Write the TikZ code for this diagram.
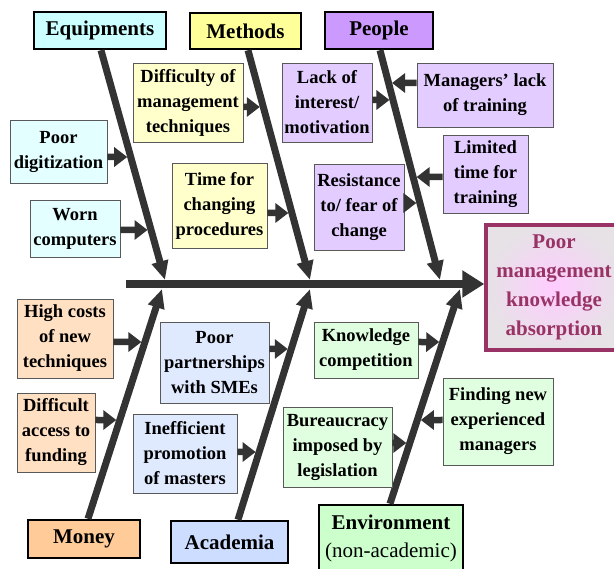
\documentclass[tikz,border=0pt]{standalone}
\usepackage{fontspec}
\setmainfont{Liberation Serif}
\usetikzlibrary{arrows.meta}

\definecolor{bonegray}{HTML}{333333}
\definecolor{effectred}{HTML}{993366}
\definecolor{effectin}{HTML}{FFCCFF}
\definecolor{effectout}{HTML}{E6E2E6}
\definecolor{eqhead}{HTML}{CCFFFF}\definecolor{eqcause}{HTML}{E3FFFF}
\definecolor{mehead}{HTML}{FFFF99}\definecolor{mecause}{HTML}{FFFFCC}
\definecolor{pehead}{HTML}{CC99FF}\definecolor{pecause}{HTML}{E3CCFF}
\definecolor{mohead}{HTML}{FFCC99}\definecolor{mocause}{HTML}{FFE0C2}
\definecolor{achead}{HTML}{CCDDFF}\definecolor{accause}{HTML}{E0EAFF}
\definecolor{enhead}{HTML}{CCFFCC}\definecolor{encause}{HTML}{E0FFE0}

\tikzset{
    head/.style={draw=black, line width=2.5pt, inner sep=0pt,
        font=\fontsize{21pt}{28pt}\selectfont\bfseries, align=center},
    cause/.style={draw=black!65, line width=0.8pt, inner sep=0pt,
        font=\fontsize{18.5pt}{25pt}\selectfont\bfseries, align=center},
    effect/.style={draw=effectred, line width=3.5pt, inner sep=0pt,
        inner color=effectin, outer color=effectout, text=effectred,
        font=\fontsize{21pt}{29pt}\selectfont\bfseries, align=center},
    bone/.style={draw=bonegray, line width=7pt, -{Triangle[length=19pt,width=16pt]}},
    spine/.style={draw=bonegray, line width=8.5pt, -{Triangle[length=22pt,width=26pt]}},
    twig/.style={draw=bonegray, line width=6.5pt, -{Triangle[length=13pt,width=19pt]}, shorten >=3.5pt},
}

\begin{document}
\begin{tikzpicture}[x=1pt, y=-1pt]
    \useasboundingbox (0,0) rectangle (614,569);

    % categories
    \node[head, fill=eqhead, minimum width=132pt, minimum height=37pt] (eq) at (100,30.5) {Equipments};
    \node[head, fill=mehead, minimum width=111pt, minimum height=36pt] (me) at (245.5,31) {Methods};
    \node[head, fill=pehead, minimum width=108pt, minimum height=37pt] (pe) at (379,30.5) {People};
    \node[head, fill=mohead, minimum width=112pt, minimum height=38pt] (mo) at (84,539) {Money};
    \node[head, fill=achead, minimum width=117pt, minimum height=42pt] (ac) at (229.5,542) {Academia};
    \node[head, fill=enhead, minimum width=144pt, minimum height=66pt] (en) at (391,538)
        {Environment\\{\mdseries (non-academic)}};

    % effect
    \node[effect, minimum width=136pt, minimum height=125pt] (eff) at (554,287.5)
        {Poor\\management\\knowledge\\absorption};

    % spine and bones
    \coordinate (tail) at (126,284);
    \coordinate (eqtip) at (165,280);
    \coordinate (metip) at (310,280);
    \coordinate (petip) at (440,280);
    \coordinate (motip) at (162,289);
    \coordinate (actip) at (310,289);
    \coordinate (entip) at (460,289);
    \coordinate (eqtop) at ([xshift=1pt]eq.south);
    \coordinate (metop) at ([xshift=2.5pt]me.south);
    \coordinate (petop) at ([xshift=1pt]pe.south);
    \coordinate (motop) at ([xshift=4pt]mo.north);
    \coordinate (actop) at ([xshift=8.5pt]ac.north);
    \coordinate (entop) at ([xshift=-1pt]en.north);

    \draw[spine] (tail) -- (tail -| eff.west);
    \foreach \c in {eq, me, pe, mo, ac, en} {
        \draw[bone] (\c top) -- (\c tip);
    }

    % causes
    \node[cause, fill=eqcause, minimum width=97pt, minimum height=63pt] (dig) at (58.5,151.5) {Poor\\digitization};
    \node[cause, fill=eqcause, minimum width=90pt, minimum height=57pt] (worn) at (75,228.5) {Worn\\computers};
    \node[cause, fill=mecause, minimum width=110pt, minimum height=79pt] (diff) at (188,102.5) {Difficulty of\\management\\techniques};
    \node[cause, fill=mecause, minimum width=95pt, minimum height=85pt] (time) at (219.5,205.5) {Time for\\changing\\procedures};
    \node[cause, fill=pecause, minimum width=90pt, minimum height=79pt] (lack) at (327,102.5) {Lack of\\interest/\\motivation};
    \node[cause, fill=pecause, minimum width=136pt, minimum height=64pt] (mgr) at (485,95) {Managers' lack\\of training};
    \node[cause, fill=pecause, minimum width=85pt, minimum height=78pt] (limit) at (485.5,174) {Limited\\time for\\training};
    \node[cause, fill=pecause, minimum width=90pt, minimum height=86pt] (resist) at (359,207) {Resistance\\to/ fear of\\change};
    \node[cause, fill=mocause, minimum width=96pt, minimum height=79pt] (cost) at (65,338.5) {High costs\\of new\\techniques};
    \node[cause, fill=mocause, minimum width=78pt, minimum height=79pt] (fund) at (56,432.5) {Difficult\\access to\\funding};
    \node[cause, fill=accause, minimum width=109pt, minimum height=81pt] (smes) at (214.5,362.5) {Poor\\partnerships\\with SMEs};
    \node[cause, fill=accause, minimum width=104pt, minimum height=79pt] (promo) at (185,453.5) {Inefficient\\promotion\\of masters};
    \node[cause, fill=encause, minimum width=104pt, minimum height=56pt] (know) at (366,350) {Knowledge\\competition};
    \node[cause, fill=encause, minimum width=109pt, minimum height=80pt] (bureau) at (337.5,447) {Bureaucracy\\imposed by\\legislation};
    \node[cause, fill=encause, minimum width=110pt, minimum height=87pt] (find) at (498,421.5) {Finding new\\experienced\\managers};

    % where the twigs leave their boxes
    \coordinate (digout) at ([yshift=-5.5pt]dig.east);
    \coordinate (wornout) at ([yshift=-1.5pt]worn.east);
    \coordinate (diffout) at ([yshift=-4.5pt]diff.east);
    \coordinate (timeout) at ([yshift=-7.5pt]time.east);
    \coordinate (lackout) at ([yshift=2.5pt]lack.east);
    \coordinate (mgrout) at ([yshift=12pt]mgr.west);
    \coordinate (limitout) at ([yshift=-3pt]limit.west);
    \coordinate (resistout) at ([yshift=4pt]resist.east);
    \coordinate (costout) at ([yshift=-3.5pt]cost.east);
    \coordinate (fundout) at ([yshift=12.5pt]fund.east);
    \coordinate (smesout) at ([yshift=13.5pt]smes.east);
    \coordinate (promoout) at ([yshift=1.5pt]promo.east);
    \coordinate (knowout) at ([yshift=8pt]know.east);
    \coordinate (bureauout) at ([yshift=4pt]bureau.east);
    \coordinate (findout) at ([yshift=1.5pt]find.west);

    \foreach \b/\c in {dig/eq, worn/eq, diff/me, time/me, lack/pe, mgr/pe, limit/pe, resist/pe,
        cost/mo, fund/mo, smes/ac, promo/ac, know/en, bureau/en, find/en} {
        \draw[twig] (\b out) -- (intersection of \c top--\c tip and \b out--\b out-|tail);
    }
\end{tikzpicture}
\end{document}
